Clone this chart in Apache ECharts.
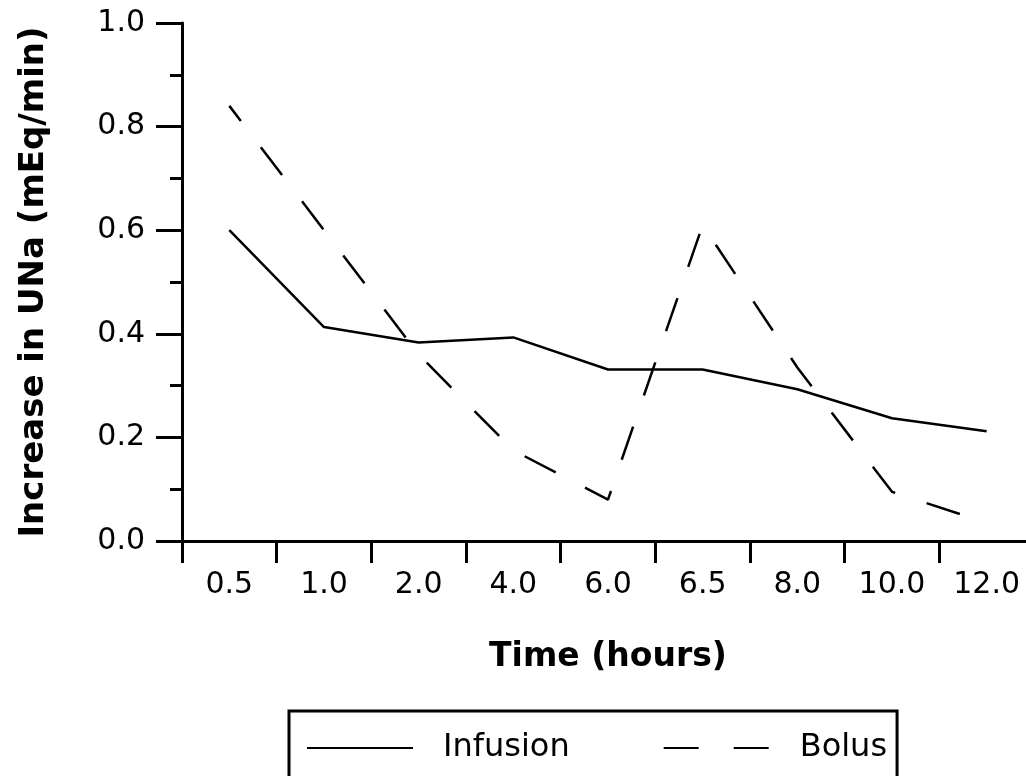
<!DOCTYPE html>
<html>

<head>
    <meta charset="UTF-8">
    <title>Increase in UNa</title>
    <script type="text/javascript" src="https://cdn.jsdelivr.net/npm/echarts@6/dist/echarts.min.js"></script>
</head>

<body style="margin: 0;padding: 0;background: #fff;">
    <div id="container" style="width:1026px; height:776px;"></div>
    <script>
        // values
        var hours = ['0.5', '1.0', '2.0', '4.0', '6.0', '6.5', '8.0', '10.0', '12.0'];
        var infusion = [0.60, 0.413, 0.383, 0.393, 0.331, 0.331, 0.293, 0.237, 0.212];
        var bolus = [0.84, 0.60, 0.36, 0.175, 0.08, 0.61, 0.335, 0.095, 0.035];
        var seriesNames = ['Infusion', 'Bolus'];

        var chart = echarts.init(document.getElementById('container'), null, {
            renderer: 'canvas'
        });

        var font = 'DejaVu Sans, Verdana, sans-serif';
        var black = '#000';

        var option = {
            animation: false,
            backgroundColor: '#fff',
            grid: {
                left: 182,
                top: 23,
                width: 852,
                height: 518,
                // the plot runs past the right edge of the picture
                outerBoundsMode: 'none'
            },
            legend: {
                left: 289,
                top: 711,
                orient: 'horizontal',
                itemWidth: 106,
                itemHeight: 28,
                itemGap: 93,
                padding: [21, 10, 21, 17],
                borderColor: black,
                borderWidth: 3,
                // hide the circle that line series put in the legend icon
                itemStyle: { opacity: 0 },
                textStyle: {
                    fontFamily: font,
                    fontSize: 32,
                    color: black,
                    padding: [0, 0, 0, 25]
                },
                data: [
                    { name: seriesNames[0] },
                    { name: seriesNames[1], lineStyle: { type: [35, 35], dashOffset: 0 } }
                ]
            },
            xAxis: {
                type: 'category',
                data: hours,
                boundaryGap: true,
                name: 'Time (hours)',
                nameLocation: 'middle',
                nameGap: 100,
                nameTextStyle: {
                    fontFamily: font,
                    fontSize: 33,
                    fontWeight: 'bold',
                    color: black
                },
                axisLine: { show: true, lineStyle: { color: black, width: 3 } },
                axisTick: { show: true, alignWithLabel: false, interval: 0, length: 22, lineStyle: { color: black, width: 3 } },
                axisLabel: {
                    interval: 0,
                    margin: 29,
                    fontFamily: font,
                    fontSize: 30,
                    color: black
                },
                splitLine: { show: false }
            },
            yAxis: {
                type: 'value',
                min: 0,
                max: 1,
                interval: 0.2,
                name: 'Increase in UNa (mEq/min)',
                nameLocation: 'middle',
                nameGap: 131,
                nameTextStyle: {
                    fontFamily: font,
                    fontSize: 34,
                    fontWeight: 'bold',
                    color: black
                },
                axisLine: { show: true, lineStyle: { color: black, width: 3 } },
                axisTick: { show: true, length: 26, lineStyle: { color: black, width: 3 } },
                minorTick: { show: true, splitNumber: 2, length: 12, lineStyle: { color: black, width: 3 } },
                axisLabel: {
                    margin: 37,
                    fontFamily: font,
                    fontSize: 30,
                    color: black,
                    formatter: function (v) { return v.toFixed(1); }
                },
                splitLine: { show: false },
                minorSplitLine: { show: false }
            },
            series: [{
                name: seriesNames[0],
                type: 'line',
                data: infusion,
                symbol: 'none',
                lineStyle: { color: black, width: 2.5 },
                itemStyle: { color: black }
            }, {
                name: seriesNames[1],
                type: 'line',
                data: bolus,
                symbol: 'none',
                lineStyle: { color: black, width: 2.5, type: [35, 33], dashOffset: 16 },
                itemStyle: { color: black }
            }]
        };

        chart.setOption(option);
    </script>
</body>

</html>
